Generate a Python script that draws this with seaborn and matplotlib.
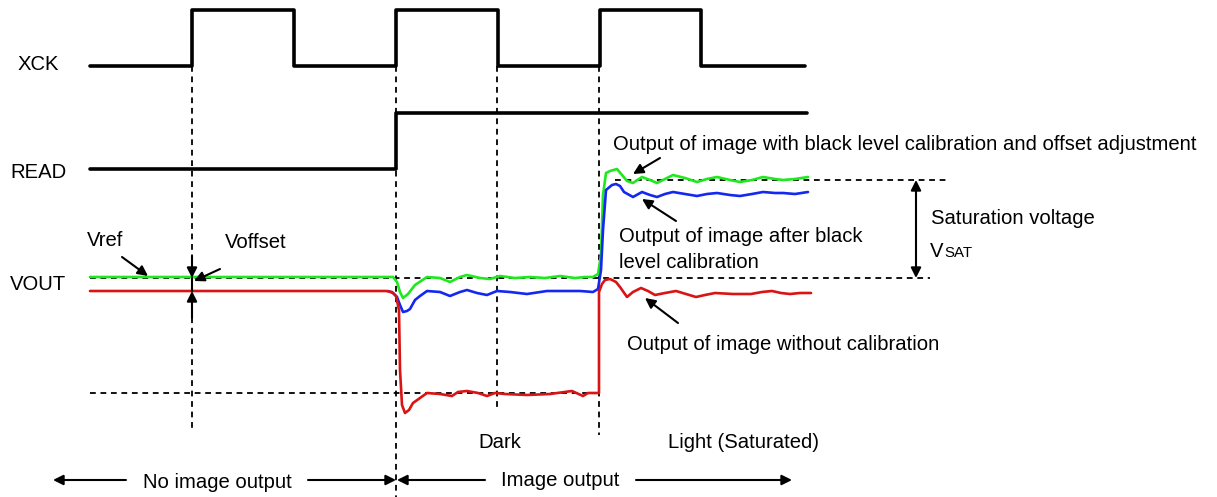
import numpy as np
import pandas as pd
import matplotlib
matplotlib.use("Agg")
import matplotlib.pyplot as plt
import seaborn as sns

# ---------------- data (diagram units: pixels, y downward) ----------------
# clock-like digital signals: edge positions and levels
xck_edges = [90, 192, 294, 396, 498, 600, 701, 805]
xck_levels = [66, 10, 66, 10, 66, 10, 66]          # low / high per segment
read_edges = [90, 396, 807]
read_levels = [169, 113]

# analog VOUT traces
green_x = [90, 393, 397, 400, 403, 408, 415, 427, 440, 450, 460, 467, 480, 490, 500, 515, 530,
           545, 560, 575, 585, 593, 598, 601, 603, 606, 610, 617, 622, 627, 633, 642, 650, 657,
           665, 673, 685, 697, 707, 717, 730, 740, 752, 763, 775, 783, 795, 808]
green_y = [277, 277, 282, 292, 298, 294, 285, 277, 278, 282, 277, 275, 278, 279, 276, 278, 277,
           278, 276, 278, 277, 277, 274, 255, 195, 173, 171, 169, 175, 181, 183, 177, 180, 183,
           179, 175, 178, 182, 179, 177, 180, 182, 180, 177, 179, 180, 179, 177]

blue_x = [388, 393, 397, 400, 403, 407, 410, 415, 420, 427, 440, 450, 460, 467, 477, 487, 497,
          510, 527, 547, 565, 580, 593, 598, 601, 603, 606, 612, 616, 620, 624, 633, 642, 650,
          657, 665, 673, 685, 697, 707, 717, 730, 740, 752, 763, 775, 783, 795, 808]
blue_y = [291, 293, 297, 305, 312, 311, 309, 300, 296, 291, 292, 296, 292, 290, 293, 295, 291,
          292, 294, 291, 291, 291, 292, 289, 270, 230, 190, 185, 184, 186, 192, 197, 192, 195,
          197, 194, 192, 194, 196, 194, 193, 195, 196, 194, 192, 193, 193, 194, 192]

red_x = [90, 386, 392, 396, 399, 400, 402, 405, 409, 413, 420, 427, 440, 452, 458, 467, 478, 487,
         495, 505, 527, 550, 572, 583, 588, 595, 599, 599, 602, 605, 610, 616, 620, 627, 633, 641,
         648, 655, 665, 676, 686, 696, 705, 715, 733, 751, 762, 772, 781, 790, 800, 811]
red_y = [291, 291, 292, 296, 310, 370, 405, 413, 410, 403, 398, 393, 394, 396, 392, 391, 393, 396,
         393, 394, 395, 394, 391, 396, 393, 393, 393, 292, 284, 280, 279, 282, 287, 297, 292, 288,
         291, 295, 293, 291, 294, 297, 295, 293, 294, 294, 292, 291, 293, 294, 293, 293]

signal_names = ["XCK", "READ", "VOUT"]
signal_label_x = [18, 10, 10]
signal_label_y = [65, 172, 285]

# guide lines
vguide_x = [192, 396, 497, 599]
vguide_top = [66, 66, 66, 66]
vguide_bottom = [430, 497, 410, 435]
hguide_y = [278, 393, 180]
hguide_x0 = [90, 90, 615]
hguide_x1 = [930, 599, 950]

GREEN = "#1fe81f"
BLUE = "#1428f0"
RED = "#d81414"

# ---------------- build step traces ----------------
def steps(edges, levels):
    xs, ys = [], []
    for i, lv in enumerate(levels):
        xs += [edges[i], edges[i + 1]]
        ys += [lv, lv]
    return xs, ys

xck_x, xck_y = steps(xck_edges, xck_levels)
read_x, read_y = steps(read_edges, read_levels)

digital = pd.concat([
    pd.DataFrame({"x": xck_x, "y": xck_y, "sig": "XCK"}),
    pd.DataFrame({"x": read_x, "y": read_y, "sig": "READ"}),
])
analog = pd.concat([
    pd.DataFrame({"x": green_x, "y": green_y, "sig": "green"}),
    pd.DataFrame({"x": blue_x, "y": blue_y, "sig": "blue"}),
    pd.DataFrame({"x": red_x, "y": red_y, "sig": "red"}),
])

# ---------------- figure ----------------
sns.set_style("white")
plt.rcParams["font.family"] = ["Liberation Sans", "DejaVu Sans"]
plt.rcParams["text.color"] = "black"
FS = 14.6

fig = plt.figure(figsize=(12.17, 4.97), dpi=100)
ax = fig.add_axes([0, 0, 1, 1])

dash = (0, (3.2, 2.6))
for x, t, b in zip(vguide_x, vguide_top, vguide_bottom):
    ax.plot([x, x], [t, b], color="black", lw=1.3, linestyle=dash, zorder=1)
for y, a, b in zip(hguide_y, hguide_x0, hguide_x1):
    ax.plot([a, b], [y, y], color="black", lw=1.3, linestyle=dash, zorder=1)

sns.lineplot(data=digital, x="x", y="y", units="sig", estimator=None, sort=False,
             color="black", lw=2.6, ax=ax, legend=False, zorder=3)
sns.lineplot(data=analog, x="x", y="y", hue="sig", units="sig", estimator=None, sort=False,
             palette={"green": GREEN, "blue": BLUE, "red": RED}, hue_order=["green", "blue", "red"],
             lw=1.9, ax=ax, legend=False, zorder=4)
ax.set_xlim(0, 1217)
ax.set_ylim(497, 0)
ax.axis("off")

# signal names
for name, x, y in zip(signal_names, signal_label_x, signal_label_y):
    ax.text(x, y, name, fontsize=FS, ha="left", va="center", color="black")

def arrow(x0, y0, x1, y1, style="-|>", ms=15):
    ax.annotate("", xy=(x1, y1), xytext=(x0, y0),
                arrowprops=dict(arrowstyle=style, color="black", lw=1.5,
                                shrinkA=0, shrinkB=0, mutation_scale=ms), zorder=6)

def label(x, y, s, **kw):
    kw.setdefault("fontsize", FS)
    kw.setdefault("ha", "left")
    kw.setdefault("va", "center")
    ax.text(x, y, s, color="black", **kw)

# Vref / Voffset
label(87, 240, "Vref")
arrow(122, 257, 148, 276)
label(225, 243, "Voffset")
arrow(220, 269, 194, 281)
arrow(192, 256, 192, 278)
arrow(192, 318, 192, 291)
ax.plot([192, 192], [278, 291], color="black", lw=1.5, zorder=6)

# curve annotations
label(613, 144, "Output of image with black level calibration and offset adjustment")
arrow(660, 158, 633, 174)
label(619, 237, "Output of image after black")
label(619, 262, "level calibration")
arrow(676, 221, 642, 199)
label(627, 345, "Output of image without calibration")
arrow(678, 323, 645, 298)

# saturation voltage
arrow(916, 230, 916, 180)
arrow(916, 230, 916, 278)
label(931, 219, "Saturation voltage")
label(930, 257, "V", va="baseline")
label(944, 257, "SAT", fontsize=FS * 0.74, va="baseline")

# region labels
label(500, 443, "Dark", ha="center")
label(668, 443, "Light (Saturated)")
label(217, 482, "No image output", ha="center")
label(560, 480, "Image output", ha="center")
arrow(126, 480, 53, 480)
arrow(308, 480, 396, 480)
arrow(485, 480, 397, 480)
arrow(636, 480, 792, 480)

fig.savefig("out.png", dpi=100)
